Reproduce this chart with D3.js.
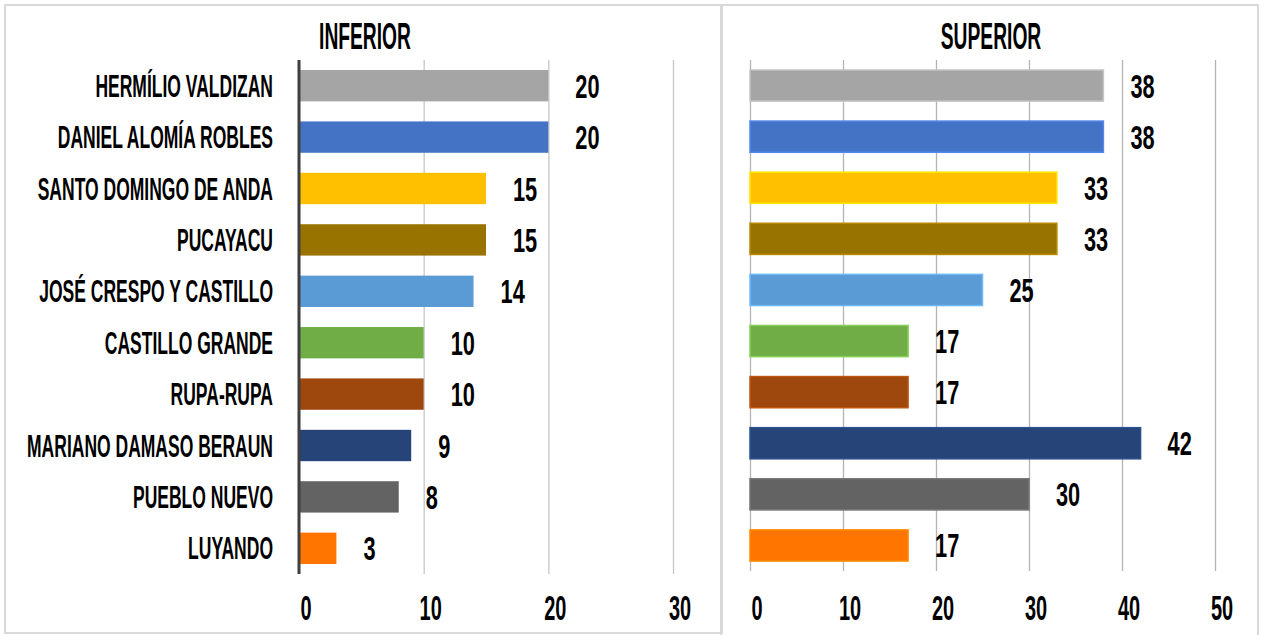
<!DOCTYPE html>
<html>
<head>
<meta charset="utf-8">
<script src="https://cdn.jsdelivr.net/npm/d3@7"></script>
<style>
  body { margin: 0; background: #fff; }
  text { font-family: 'Liberation Sans Narrow', 'Liberation Sans', sans-serif; font-weight: bold; fill: #000; }
</style>
</head>
<body>
<div id="chart"></div>
<script>
// datos de las dos graficas (inferior / superior)
const categorias = ["HERMÍLIO VALDIZAN", "DANIEL ALOMÍA ROBLES", "SANTO DOMINGO DE ANDA", "PUCAYACU",
  "JOSÉ CRESPO Y CASTILLO", "CASTILLO GRANDE", "RUPA-RUPA", "MARIANO DAMASO BERAUN", "PUEBLO NUEVO", "LUYANDO"];
const inferior = [20, 20, 15, 15, 14, 10, 10, 9, 8, 3];
const superior = [38, 38, 33, 33, 25, 17, 17, 42, 30, 17];
const colores = ["#a5a5a5", "#4472c4", "#ffc000", "#997300", "#5b9bd5", "#70ad47", "#9e480e", "#264478", "#636363", "#ff7500"];
const ticksInferior = [0, 10, 20, 30];
const ticksSuperior = [0, 10, 20, 30, 40, 50];

const W = 1267, H = 635;
// compresion horizontal del texto (la fuente original es muy estrecha)
const sxCat = 0.565, sxVal = 0.66, sxTit = 0.52, sxTick = 0.57;

const svg = d3.select("#chart").append("svg")
  .attr("width", W).attr("height", H);

// marcos de los paneles
svg.append("rect").attr("x", 5).attr("y", 5).attr("width", 717).attr("height", 628)
  .attr("fill", "none").attr("stroke", "#d9d9d9").attr("stroke-width", 2);
svg.append("rect").attr("x", 721).attr("y", 5).attr("width", 537).attr("height", 650)
  .attr("fill", "none").attr("stroke", "#d9d9d9").attr("stroke-width", 2);

function panel(cfg) {
  const x = d3.scaleLinear().domain(cfg.domain).range(cfg.xr);
  const y = d3.scaleBand().domain(categorias).range(cfg.yr).paddingInner(0.39).paddingOuter(0.195);
  const g = svg.append("g");

  // lineas de cuadricula
  g.append("g")
    .attr("transform", "translate(0," + cfg.yr[1] + ")")
    .call(d3.axisBottom(x).tickValues(cfg.ticks).tickSize(-(cfg.yr[1] - cfg.yr[0])).tickFormat(""))
    .call(s => s.select(".domain").remove())
    .call(s => s.selectAll(".tick line").attr("stroke", cfg.grid).attr("stroke-width", 1.3));

  // etiquetas del eje
  g.append("g")
    .attr("transform", "translate(0,620)")
    .call(d3.axisBottom(x).tickValues(cfg.ticks).tickSize(0))
    .call(s => s.select(".domain").remove())
    .call(s => s.selectAll(".tick text")
      .attr("y", 0).attr("dy", 0).attr("x", 6.5 / sxTick)
      .attr("transform", "scale(" + sxTick + ",1)")
      .style("font-size", "35px")
      .style("font-family", "'Liberation Sans Narrow', 'Liberation Sans', sans-serif")
      .style("font-weight", "bold")
      .attr("fill", "#000"));

  // barras
  g.selectAll(".bar").data(cfg.values).join("rect")
    .attr("x", x(0))
    .attr("y", (d, i) => y(categorias[i]))
    .attr("width", d => x(d) - x(0))
    .attr("height", y.bandwidth())
    .attr("fill", (d, i) => colores[i])
    .attr("stroke", (d, i) => cfg.borde ? d3.color(colores[i]).brighter(0.5) : "none")
    .attr("stroke-width", 1.5);

  // valores
  g.selectAll(".val").data(cfg.values).join("text")
    .attr("transform", (d, i) => "translate(" + (x(d) + 27) + "," + (y(categorias[i]) + y.bandwidth() / 2 + 12) + ") scale(" + sxVal + ",1)")
    .style("font-size", "33px")
    .text(d => d);

  // titulo
  g.append("text")
    .attr("transform", "translate(" + cfg.tx + ",49) scale(" + sxTit + ",1)")
    .attr("text-anchor", "middle")
    .style("font-size", "37px")
    .text(cfg.titulo);

  return {x, y, g};
}

const izq = panel({domain: [0, 30], xr: [299, 673], yr: [60, 574], ticks: ticksInferior,
  values: inferior, grid: "#c6c6c6", borde: false, tx: 365, titulo: "INFERIOR"});
panel({domain: [0, 50], xr: [750, 1215], yr: [60, 571], ticks: ticksSuperior,
  values: superior, grid: "#b4b4b4", borde: true, tx: 991, titulo: "SUPERIOR"});

// eje vertical izquierdo
izq.g.append("line")
  .attr("x1", izq.x(0)).attr("x2", izq.x(0))
  .attr("y1", 60).attr("y2", 574)
  .attr("stroke", "#404040").attr("stroke-width", 3);

// nombres de los distritos
izq.g.selectAll(".cat").data(categorias).join("text")
  .attr("transform", d => "translate(273," + (izq.y(d) + izq.y.bandwidth() / 2 + 11) + ") scale(" + sxCat + ",1)")
  .attr("text-anchor", "end")
  .style("font-size", "31px")
  .text(d => d);
</script>
</body>
</html>
